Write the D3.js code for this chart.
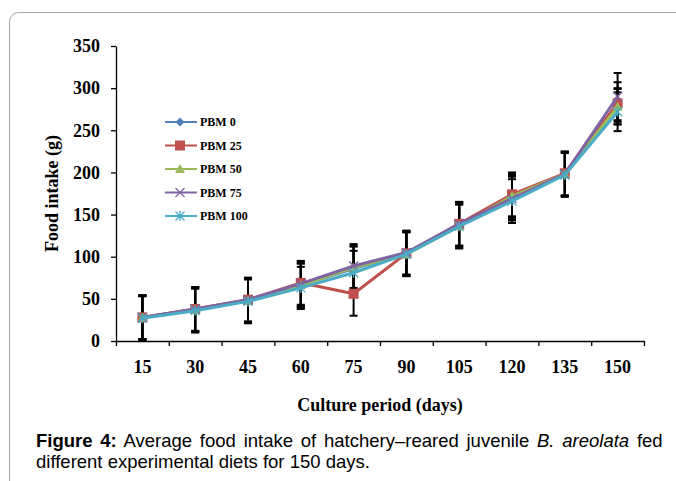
<!DOCTYPE html>
<html><head><meta charset="utf-8">
<script src="https://cdn.jsdelivr.net/npm/d3@7"></script>
<style>html,body{margin:0;padding:0;background:#fff;}svg{display:block;}</style>
</head><body>
<svg id="chart" width="676" height="481"></svg>
<script>
const days = [15, 30, 45, 60, 75, 90, 105, 120, 135, 150];
const yTicks = [0, 50, 100, 150, 200, 250, 300, 350];
const seriesNames = ["PBM 0", "PBM 25", "PBM 50", "PBM 75", "PBM 100"];
const pbm0   = [28, 37, 48, 66, 86, 104, 138, 170, 198, 280];
const pbm25  = [28, 38, 49, 69, 56, 104, 139, 174, 199, 282];
const pbm50  = [28, 37, 48, 66, 87, 103, 136, 172, 198, 278];
const pbm75  = [28, 38, 49, 68, 89, 105, 139, 169, 198, 290];
const pbm100 = [27, 36, 47, 63, 81, 103, 136, 166, 197, 272];
const err0   = [26, 26, 26, 26, 26, 26, 26, 26, 26, 20];
const err25  = [26, 26, 26, 26, 26, 26, 26, 26, 26, 25];
const err50  = [26, 26, 26, 26, 26, 26, 26, 26, 26, 21];
const err75  = [26, 26, 26, 26, 26, 26, 26, 26, 26, 28];
const err100 = [26, 26, 26, 25, 26, 26, 26, 26, 26, 23];
const colors = ["#4F81BD", "#C0504D", "#9BBB59", "#8064A2", "#4BACC6"];
const shapes = ["diamond", "square", "triangle", "x", "star"];

const values = [pbm0, pbm25, pbm50, pbm75, pbm100];
const errs = [err0, err25, err50, err75, err100];
const series = seriesNames.map((n, i) => ({
  name: n, color: colors[i], shape: shapes[i],
  pts: days.map((d, j) => ({day: d, v: values[i][j], e: errs[i][j]}))
}));

const svg = d3.select("#chart");
const serif = "'Liberation Serif','Times New Roman',serif";
const sans = "'Liberation Sans',Arial,sans-serif";

// frame
svg.append("rect").attr("x", 9.5).attr("y", 12.5).attr("width", 900).attr("height", 900)
  .attr("rx", 9).attr("fill", "none").attr("stroke", "#a6a6a6").attr("stroke-width", 1);

const L = 116, R = 644, T = 46, B = 341;
const x = d3.scaleBand().domain(days).range([L, R]);
const xc = d => x(d) + x.bandwidth() / 2;
const y = d3.scaleLinear().domain([0, 350]).range([B, T]);

// y axis
const ya = svg.append("g").attr("transform", `translate(${L},0)`)
  .call(d3.axisLeft(y).tickValues(yTicks).tickSize(5).tickPadding(11).tickSizeOuter(0));
ya.selectAll("text").attr("font-family", serif).attr("font-weight", "bold").attr("font-size", 18).attr("fill", "#000");
ya.selectAll("line,path").attr("stroke", "#000").attr("stroke-width", 1.3);

// x axis boundary ticks
const xi = d3.scaleLinear().domain([0, days.length]).range([L, R]);
const xb = svg.append("g").attr("transform", `translate(0,${B})`)
  .call(d3.axisBottom(xi).ticks(days.length).tickFormat("").tickSize(5).tickSizeOuter(0));
xb.selectAll("line,path").attr("stroke", "#000").attr("stroke-width", 1.3);
// x labels
const xl = svg.append("g").attr("transform", `translate(0,${B})`)
  .call(d3.axisBottom(x).tickSize(0).tickPadding(19));
xl.select("path").remove();
xl.selectAll("text").attr("font-family", serif).attr("font-weight", "bold").attr("font-size", 18).attr("fill", "#000");

// axis titles
svg.append("text").attr("x", (L + R) / 2).attr("y", 411).attr("text-anchor", "middle")
  .attr("font-family", serif).attr("font-weight", "bold").attr("font-size", 18).text("Culture period (days)");
svg.append("text").attr("transform", `translate(58,${(T + B) / 2}) rotate(-90)`).attr("text-anchor", "middle")
  .attr("font-family", serif).attr("font-weight", "bold").attr("font-size", 18).text("Food intake (g)");

// error bars
const eg = svg.append("g");
series.forEach(s => {
  s.pts.forEach(p => {
    const cx = xc(p.day), y1 = y(p.v + p.e), y2 = y(p.v - p.e);
    eg.append("line").attr("x1", cx).attr("x2", cx).attr("y1", y1).attr("y2", y2).attr("stroke", "#000").attr("stroke-width", 2);
    [y1, y2].forEach(yy => eg.append("line").attr("x1", cx - 4).attr("x2", cx + 4).attr("y1", yy).attr("y2", yy)
      .attr("stroke", "#000").attr("stroke-width", 2));
  });
});

function marker(g, shape, color, cx, cy) {
  if (shape === "diamond") {
    g.append("path").attr("d", `M${cx},${cy - 4.5}L${cx + 4.5},${cy}L${cx},${cy + 4.5}L${cx - 4.5},${cy}Z`).attr("fill", color);
  } else if (shape === "square") {
    g.append("rect").attr("x", cx - 5).attr("y", cy - 5).attr("width", 10).attr("height", 10).attr("fill", color);
  } else if (shape === "triangle") {
    g.append("path").attr("d", `M${cx},${cy - 5}L${cx + 5},${cy + 4}L${cx - 5},${cy + 4}Z`).attr("fill", color);
  } else if (shape === "x") {
    g.append("path").attr("d", `M${cx - 4.5},${cy - 4.5}L${cx + 4.5},${cy + 4.5}M${cx - 4.5},${cy + 4.5}L${cx + 4.5},${cy - 4.5}`)
      .attr("stroke", color).attr("stroke-width", 1.3).attr("fill", "none");
  } else {
    g.append("path").attr("d", `M${cx - 4.5},${cy - 4.5}L${cx + 4.5},${cy + 4.5}M${cx - 4.5},${cy + 4.5}L${cx + 4.5},${cy - 4.5}M${cx},${cy - 5}L${cx},${cy + 5}`)
      .attr("stroke", color).attr("stroke-width", 1.3).attr("fill", "none");
  }
}

// lines + markers
const line = d3.line().x(p => xc(p.day)).y(p => y(p.v));
series.forEach(s => {
  const g = svg.append("g");
  g.append("path").datum(s.pts).attr("d", line).attr("fill", "none").attr("stroke", s.color)
    .attr("stroke-width", 3).attr("stroke-linejoin", "round");
  s.pts.forEach(p => marker(g, s.shape, s.color, xc(p.day), y(p.v)));
});

// legend
const legY = [122, 145.5, 169, 192.5, 216];
series.forEach((s, i) => {
  const g = svg.append("g");
  g.append("line").attr("x1", 165).attr("x2", 197).attr("y1", legY[i]).attr("y2", legY[i]).attr("stroke", s.color).attr("stroke-width", 2);
  marker(g, s.shape, s.color, 180, legY[i]);
  g.append("text").attr("x", 200).attr("y", legY[i] + 4).attr("font-family", serif).attr("font-weight", "bold")
    .attr("font-size", 12).text(s.name);
});

// caption
const capSize = 18.5;
const cap1 = svg.append("text").attr("x", 36).attr("y", 447).attr("font-family", sans).attr("font-size", capSize).attr("fill", "#000");
cap1.append("tspan").attr("font-weight", "bold").text("Figure 4:");
cap1.append("tspan").text(" Average food intake of hatchery\u2013reared juvenile ");
cap1.append("tspan").attr("font-style", "italic").text("B. areolata");
cap1.append("tspan").text(" fed");
const w = cap1.node().getComputedTextLength();
const spaces = 9;
cap1.attr("word-spacing", Math.max(0, (624 - w) / spaces));
svg.append("text").attr("x", 36).attr("y", 468).attr("font-family", sans).attr("font-size", capSize).attr("fill", "#000")
  .text("different experimental diets for 150 days.");
</script>
</body></html>
